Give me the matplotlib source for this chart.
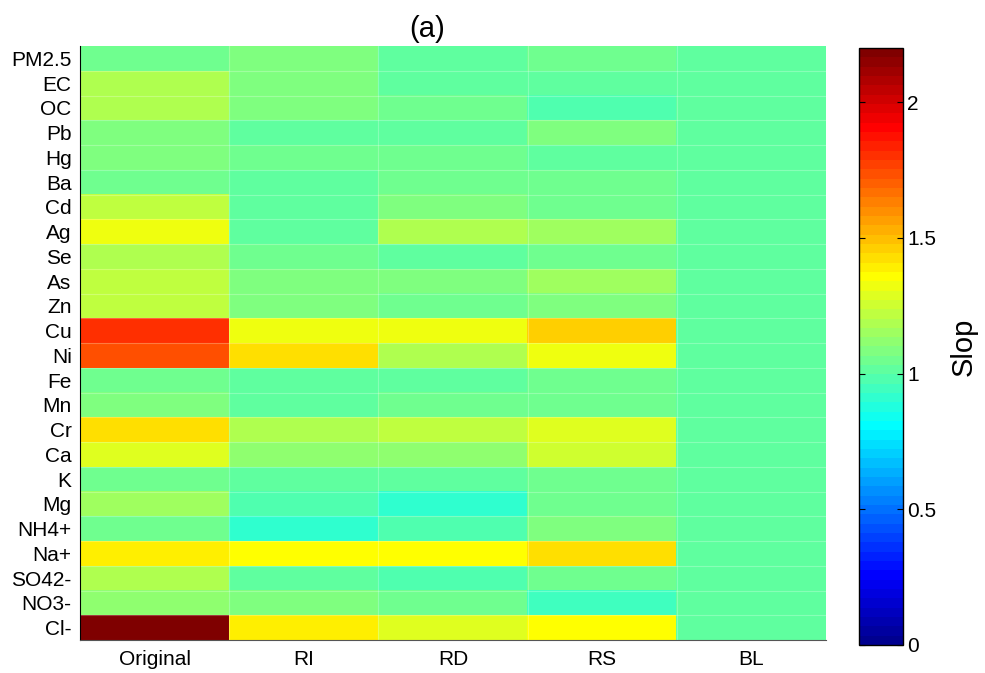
import numpy as np
import matplotlib
matplotlib.use("Agg")
import matplotlib.pyplot as plt
from matplotlib.colors import ListedColormap

plt.rcParams['font.family'] = ['Liberation Sans', 'DejaVu Sans']

# %% data
species = ["PM2.5", "EC", "OC", "Pb", "Hg", "Ba", "Cd", "Ag", "Se", "As", "Zn", "Cu",
           "Ni", "Fe", "Mn", "Cr", "Ca", "K", "Mg", "NH4+", "Na+", "SO42-", "NO3-", "Cl-"]
methods = ["Original", "RI", "RD", "RS", "BL"]

original = [1.049, 1.186, 1.186, 1.083, 1.083, 1.049, 1.220, 1.323, 1.186, 1.220, 1.220, 1.805,
            1.736, 1.049, 1.083, 1.427, 1.289, 1.049, 1.152, 1.049, 1.392, 1.186, 1.117, 2.183]
ri = [1.083, 1.083, 1.083, 1.014, 1.049, 1.014, 1.014, 1.014, 1.049, 1.083, 1.083, 1.323,
      1.427, 1.014, 1.014, 1.186, 1.117, 1.014, 0.980, 0.911, 1.358, 1.014, 1.083, 1.392]
rd = [1.014, 1.014, 1.049, 1.014, 1.049, 1.049, 1.083, 1.186, 1.014, 1.083, 1.049, 1.323,
      1.186, 1.014, 1.049, 1.220, 1.117, 1.014, 0.911, 0.980, 1.358, 0.980, 1.049, 1.289]
rs = [1.049, 1.014, 0.980, 1.083, 1.014, 1.049, 1.049, 1.152, 1.049, 1.152, 1.083, 1.461,
      1.323, 1.049, 1.049, 1.289, 1.255, 1.049, 1.049, 1.083, 1.427, 1.049, 0.945, 1.358]
bl = [1.014] * len(species)


# %% MATLAB style jet(64)
def matlab_jet(n=64):
    m = int(np.ceil(n / 4))
    u = np.concatenate([np.arange(1, m + 1) / m, np.ones(m - 1), np.arange(m, 0, -1) / m])
    g = int(np.ceil(m / 2)) - (1 if n % 4 == 1 else 0) + np.arange(1, len(u) + 1)
    r = g + m
    b = g - m
    J = np.zeros((n, 3))
    J[r[r <= n] - 1, 0] = u[r <= n]
    J[g[g <= n] - 1, 1] = u[g <= n]
    J[b[b >= 1] - 1, 2] = u[b >= 1]
    return ListedColormap(J)


# %% plot
slope = np.column_stack([original, ri, rd, rs, bl])
n_rows, n_cols = slope.shape

fig = plt.figure(figsize=(9.85, 6.73), dpi=100)
ax = fig.add_axes([80 / 985, 1 - 640 / 673, 746 / 985, 594 / 673])
cax = fig.add_axes([859 / 985, 1 - 645 / 673, 44 / 985, 597 / 673])

im = ax.imshow(slope, cmap=matlab_jet(64), vmin=0, vmax=2.2, aspect='auto',
               interpolation='nearest', extent=(-0.5, n_cols - 0.5, n_rows - 0.5, -0.5))

# faint cell borders
for r in np.arange(0.5, n_rows - 0.5):
    ax.axhline(r, color='white', lw=0.8, alpha=0.25)
for c in np.arange(0.5, n_cols - 0.5):
    ax.axvline(c, color='white', lw=0.8, alpha=0.25)

ax.set_xticks(range(n_cols))
ax.set_xticklabels(methods, fontsize=15)
ax.set_yticks(range(n_rows))
ax.set_yticklabels(species, fontsize=15)
ax.tick_params(length=0, pad=7)
ax.tick_params(axis='y', pad=6)
for side in ['top', 'right']:
    ax.spines[side].set_visible(False)
ax.spines['left'].set_linewidth(0.8)
ax.spines['bottom'].set_linewidth(0.8)
ax.spines['bottom'].set_color('#555555')

ax.text(0.465, 1.005, "(a)", transform=ax.transAxes, ha='center', va='bottom', fontsize=21)

cb = fig.colorbar(im, cax=cax, ticks=[0, 0.5, 1, 1.5, 2])
cb.ax.set_yticklabels(['0', '0.5', '1', '1.5', '2'])
cb.ax.tick_params(labelsize=15, direction='in', length=4, left=True, right=True, pad=3)
cb.outline.set_linewidth(1.0)
cb.set_label("Slop", fontsize=21, labelpad=10)

fig.savefig("out.png", dpi=100)
